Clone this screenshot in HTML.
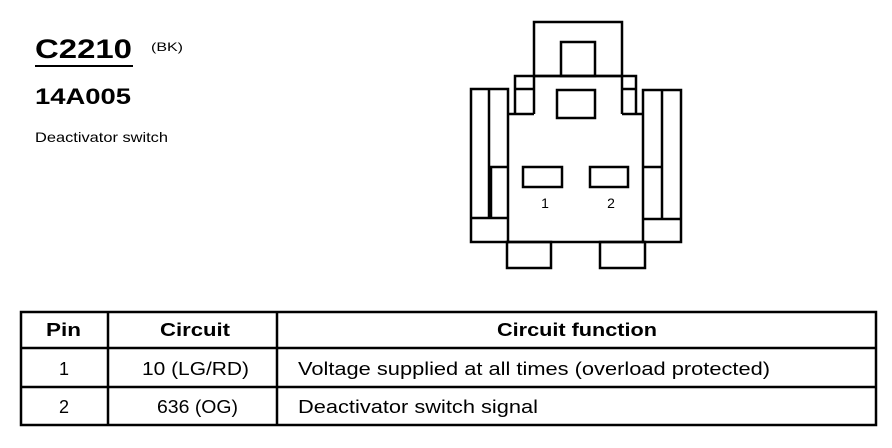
<!DOCTYPE html>
<html><head><style>
html,body{margin:0;padding:0;background:#fff;}
svg{display:block;font-family:"Liberation Sans",Arial,sans-serif;}
</style></head><body>
<svg width="892" height="448" viewBox="0 0 892 448" xmlns="http://www.w3.org/2000/svg">
<g fill="#000">
<text x="35" y="58" font-size="27" font-weight="bold" textLength="97" lengthAdjust="spacingAndGlyphs">C2210</text>
<text x="151" y="51" font-size="12" textLength="32" lengthAdjust="spacingAndGlyphs">(BK)</text>
<text x="35" y="104" font-size="22" font-weight="bold" textLength="96" lengthAdjust="spacingAndGlyphs">14A005</text>
<text x="35" y="142" font-size="14" textLength="133" lengthAdjust="spacingAndGlyphs">Deactivator switch</text>
</g>
<line x1="35" y1="66" x2="133" y2="66" stroke="#000" stroke-width="2"/>
<g fill="none" stroke="#000" stroke-width="2.5" stroke-linejoin="miter">
<rect x="534" y="22" width="88" height="54"/>
<rect x="561" y="42" width="34" height="34"/>
<polyline points="515,114 515,76 636,76 636,114"/>
<line x1="515" y1="89" x2="534" y2="89"/>
<line x1="622" y1="89" x2="636" y2="89"/>
<line x1="534" y1="76" x2="534" y2="114"/>
<line x1="622" y1="76" x2="622" y2="114"/>
<polyline points="508,114 534,114"/>
<polyline points="622,114 643,114"/>
<polygon points="471,89 508,89 508,242 471,242"/>
<line x1="489" y1="89" x2="489" y2="218"/>
<polyline points="491,218 491,167 509,167"/>
<line x1="471" y1="218" x2="509" y2="218"/>
<polygon points="643,90 681,90 681,242 643,242"/>
<line x1="662" y1="90" x2="662" y2="219"/>
<polyline points="644,167 662,167"/>
<line x1="643" y1="219" x2="681" y2="219"/>
<line x1="508" y1="242" x2="643" y2="242"/>
<rect x="507" y="242" width="44" height="26"/>
<rect x="600" y="242" width="45" height="26"/>
<rect x="557" y="90" width="38" height="28"/>
<rect x="523" y="167" width="39" height="20"/>
<rect x="590" y="167" width="38" height="20"/>
</g>
<g font-size="14" fill="#000" text-anchor="middle">
<text x="545" y="208">1</text>
<text x="611" y="208">2</text>
</g>
<g fill="none" stroke="#000" stroke-width="2.5">
<rect x="21" y="312" width="855" height="113"/>
<line x1="21" y1="348" x2="876" y2="348"/>
<line x1="21" y1="387" x2="876" y2="387"/>
<line x1="108" y1="312" x2="108" y2="425"/>
<line x1="277" y1="312" x2="277" y2="425"/>
</g>
<g font-size="18" fill="#000">
<text x="46" y="336" font-weight="bold" textLength="35" lengthAdjust="spacingAndGlyphs">Pin</text>
<text x="160" y="336" font-weight="bold" textLength="70" lengthAdjust="spacingAndGlyphs">Circuit</text>
<text x="497" y="336" font-weight="bold" textLength="160" lengthAdjust="spacingAndGlyphs">Circuit function</text>
<text x="64" y="375" text-anchor="middle">1</text>
<text x="142" y="375" textLength="107" lengthAdjust="spacingAndGlyphs">10 (LG/RD)</text>
<text x="298" y="375" textLength="472" lengthAdjust="spacingAndGlyphs">Voltage supplied at all times (overload protected)</text>
<text x="64" y="413" text-anchor="middle">2</text>
<text x="157" y="413" textLength="81" lengthAdjust="spacingAndGlyphs">636 (OG)</text>
<text x="298" y="413" textLength="240" lengthAdjust="spacingAndGlyphs">Deactivator switch signal</text>
</g>
</svg>
</body></html>
